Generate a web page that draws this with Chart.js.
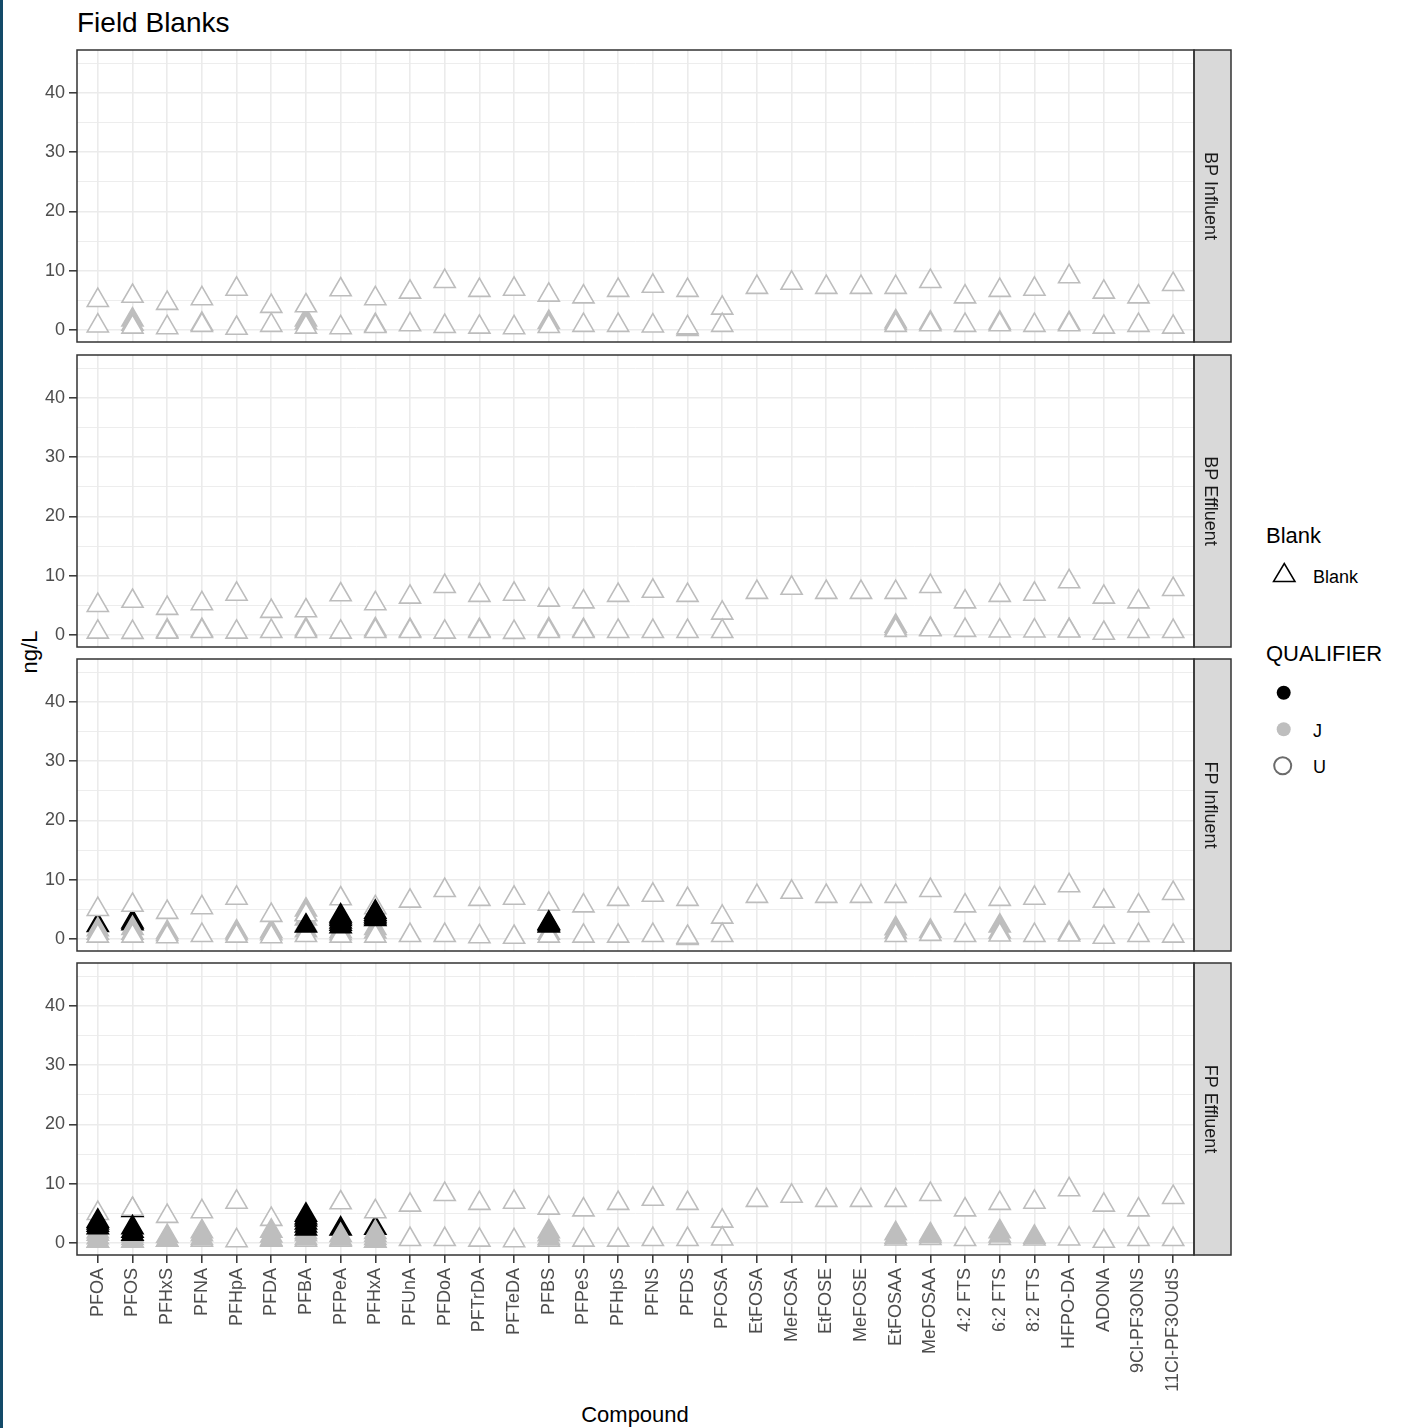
<!DOCTYPE html>
<html>
<head>
<meta charset="utf-8">
<title>Field Blanks</title>
<script src="https://cdn.jsdelivr.net/npm/chart.js@4.4.1/dist/chart.umd.min.js"></script>
<style>
  body { margin: 0; background: #fff; font-family: "Liberation Sans", Arial, sans-serif; }
  #page { position: relative; width: 1403px; height: 1428px; overflow: hidden; background: #fff; }
  .panel { position: absolute; left: 0; }
  .txt { position: absolute; white-space: nowrap; line-height: 1; }
</style>
</head>
<body>
<div id="page">
  <div style="position:absolute;left:0;top:0;width:3px;height:1428px;background:#134a68"></div>
  <div class="txt" style="left:77px;top:9px;font-size:28px;color:#000">Field Blanks</div>
  <div class="txt" style="left:30px;top:652px;font-size:22px;color:#000;transform:translate(-50%,-50%) rotate(-90deg)">ng/L</div>
  <div class="txt" style="left:635px;top:1404px;font-size:22px;color:#000;transform:translateX(-50%)">Compound</div>

  <!-- legend -->
  <div class="txt" style="left:1266px;top:525px;font-size:22px;color:#000">Blank</div>
  <div class="txt" style="left:1313px;top:568px;font-size:18px;color:#000">Blank</div>
  <div class="txt" style="left:1266px;top:643px;font-size:22px;color:#000">QUALIFIER</div>
  <div class="txt" style="left:1313px;top:722px;font-size:18px;color:#000">J</div>
  <div class="txt" style="left:1313px;top:758px;font-size:18px;color:#000">U</div>
  <svg style="position:absolute;left:1240px;top:540px" width="100" height="250">
    <polygon points="44.3,23.5 33.5,41.5 55,41.5" fill="none" stroke="#000" stroke-width="1.5"/>
    <circle cx="43.7" cy="152.7" r="7" fill="#000"/>
    <circle cx="43.7" cy="189.3" r="7" fill="#BEBEBE"/>
    <circle cx="42.7" cy="225.7" r="8.5" fill="none" stroke="#6b6b6b" stroke-width="2"/>
  </svg>
</div>

<script>
// ── Data ──────────────────────────────────────────────
const compounds = ['PFOA', 'PFOS', 'PFHxS', 'PFNA', 'PFHpA', 'PFDA', 'PFBA', 'PFPeA', 'PFHxA', 'PFUnA',
  'PFDoA', 'PFTrDA', 'PFTeDA', 'PFBS', 'PFPeS', 'PFHpS', 'PFNS', 'PFDS', 'PFOSA', 'EtFOSA',
  'MeFOSA', 'EtFOSE', 'MeFOSE', 'EtFOSAA', 'MeFOSAA', '4:2 FTS', '6:2 FTS', '8:2 FTS', 'HFPO-DA', 'ADONA',
  '9Cl-PF3ONS', '11Cl-PF3OUdS'];

const panelNames = ['BP Influent', 'BP Effluent', 'FP Influent', 'FP Effluent'];

const yTickValues = [0, 5, 10, 15, 20, 25, 30, 35, 40, 45];

// upper row of U (non-detect) results, same in every panel
const reportLimits = [5.0, 5.7, 4.5, 5.3, 6.9, 4.0, 4.1, 6.8, 5.3, 6.4,
  8.2, 6.7, 6.9, 5.9, 5.6, 6.7, 7.4, 6.7, 3.7, 7.2,
  7.9, 7.2, 7.2, 7.2, 8.2, 5.6, 6.7, 6.9, 9.0, 6.4,
  5.6, 7.7];

// lower row of U results per panel
const bpInfLow = [0.7, 0.5, 0.4, 0.8, 0.3, 0.8, 0.5, 0.4, 0.6, 0.9,
  0.6, 0.5, 0.4, 0.6, 0.8, 0.8, 0.7, 0.4, 0.8, null,
  null, null, null, 0.8, 0.9, 0.8, 0.9, 0.8, 0.9, 0.5,
  0.8, 0.5];
const bpEffLow = [0.5, 0.45, 0.5, 0.6, 0.5, 0.6, 0.6, 0.5, 0.6, 0.6,
  0.5, 0.6, 0.45, 0.6, 0.6, 0.6, 0.6, 0.6, 0.6, null,
  null, null, null, 0.8, 0.9, 0.8, 0.7, 0.7, 0.7, 0.3,
  0.6, 0.6];
const fpInfLow = [0.5, 0.5, 0.4, 0.6, 0.5, 0.4, 0.6, 0.5, 0.5, 0.6,
  0.6, 0.4, 0.3, 0.5, 0.5, 0.5, 0.6, 0.3, 0.6, null,
  null, null, null, 0.6, 0.8, 0.6, 0.7, 0.6, 0.7, 0.3,
  0.6, 0.5];
const fpEffLow = [0.3, 0.3, 0.5, 0.5, 0.4, 0.5, 0.5, 0.5, 0.3, 0.6,
  0.6, 0.5, 0.4, 0.5, 0.5, 0.5, 0.6, 0.6, 0.7, null,
  null, null, null, 0.7, 0.8, 0.6, 0.8, 0.7, 0.7, 0.3,
  0.6, 0.6];

// J-qualified results
const bpInfJ = [['PFOS', [1.0, 1.7]], ['PFNA', [1.0]], ['PFBA', [1.2, 1.7]], ['PFHxA', [0.8]],
  ['PFBS', [1.3]], ['PFDS', [0.1]], ['EtFOSAA', [1.1, 1.4]], ['MeFOSAA', [1.2]],
  ['6:2 FTS', [1.2]], ['HFPO-DA', [1.1]]];
const bpEffJ = [['PFHxS', [0.7]], ['PFNA', [0.8]], ['PFBA', [0.9]], ['PFHxA', [0.9]], ['PFUnA', [0.8]],
  ['PFTrDA', [0.8]], ['PFBS', [0.9]], ['PFPeS', [0.8]], ['EtFOSAA', [1.1, 1.5]], ['MeFOSAA', [1.0]],
  ['HFPO-DA', [0.8]]];
const fpInfJ = [['PFOA', [1.0, 1.6]], ['PFOS', [1.0, 1.8]], ['PFHxS', [0.8, 1.1]], ['PFHpA', [0.9, 1.2]],
  ['PFDA', [0.9, 1.3]], ['PFBA', [1.4, 2.4, 3.4, 4.2, 4.9]], ['PFPeA', [0.9, 1.3]], ['PFHxA', [1.2, 1.8]],
  ['PFBS', [1.0]], ['PFDS', [0.1]], ['EtFOSAA', [1.2, 1.75]], ['MeFOSAA', [1.35]],
  ['6:2 FTS', [1.2, 2.2]], ['HFPO-DA', [1.0]]];
const fpEffJ = [['PFOA', [0.3, 0.9, 1.5, 1.9]], ['PFOS', [0.3, 0.8, 1.2]], ['PFHxS', [0.5, 1.1]],
  ['PFNA', [0.8, 1.4, 1.9]], ['PFDA', [0.6, 1.2, 2.0]], ['PFBA', [0.8, 1.4, 1.8]], ['PFPeA', [0.7, 1.3]],
  ['PFHxA', [0.3, 0.8, 1.3, 1.8]], ['PFBS', [0.8, 1.4, 1.9]], ['EtFOSAA', [1.0, 1.6]],
  ['MeFOSAA', [1.1, 1.4]], ['6:2 FTS', [1.2, 1.9]], ['8:2 FTS', [1.0]]];

// unqualified (detected) results drawn in front of the others
const fpInfDet = [['PFBA', [2.2]], ['PFPeA', [2.1, 2.5, 2.9, 3.3, 3.6, 3.9]],
  ['PFHxA', [3.3, 3.6, 3.9, 4.2, 4.55]], ['PFBS', [2.2, 2.45, 2.7]]];
const fpEffDet = [['PFOA', [2.6, 3.0, 3.4, 3.7]], ['PFOS', [1.5, 2.0, 2.6]],
  ['PFBA', [2.4, 2.9, 3.4, 3.9, 4.3, 4.7]]];
// unqualified results that sit behind the J / U markers
const fpInfDetBack = [['PFOA', [2.3]], ['PFOS', [2.6, 2.9]]];
const fpEffDetBack = [['PFOS', [5.5]], ['PFPeA', [2.4]], ['PFHxA', [2.5]]];

// ── Layout ────────────────────────────────────────────
const panelTops = [50, 355, 659, 963];
const panelH = 292;
const yMin = -2.03, yMax = 47.26;

Chart.defaults.font.family = '"Liberation Sans", Arial, sans-serif';

const panelFrame = {
  id: 'panelFrame',
  afterDraw(chart, args, opts) {
    const { ctx, chartArea: a } = chart;
    ctx.save();
    ctx.fillStyle = '#D9D9D9';
    ctx.fillRect(a.right, a.top, 37, a.bottom - a.top);
    ctx.strokeStyle = '#333333';
    ctx.lineWidth = 1.5;
    ctx.strokeRect(a.right, a.top, 37, a.bottom - a.top);
    ctx.strokeRect(a.left, a.top, a.right - a.left, a.bottom - a.top);
    ctx.translate(a.right + 15.5, (a.top + a.bottom) / 2);
    ctx.rotate(Math.PI / 2);
    ctx.fillStyle = '#1A1A1A';
    ctx.font = '18px "Liberation Sans", Arial, sans-serif';
    ctx.textAlign = 'center';
    ctx.textBaseline = 'middle';
    ctx.fillText(opts.label, 0, 0);
    ctx.restore();
  }
};

function toPoints(entries) {
  const pts = [];
  entries.forEach(([name, vals]) => {
    vals.forEach(v => pts.push({ x: compounds.indexOf(name) + 1, y: v }));
  });
  return pts;
}

function uPoints(low) {
  const pts = reportLimits.map((v, i) => ({ x: i + 1, y: v }));
  low.forEach((v, i) => { if (v !== null) pts.push({ x: i + 1, y: v }); });
  return pts;
}

const tri = (border, fill) => ({
  pointStyle: 'triangle',
  pointRadius: 12.2,
  pointBorderWidth: 1.6,
  pointBorderColor: border,
  pointBackgroundColor: fill,
  showLine: false,
});

function makePanel(i, low, jPts, detPts, detBack, jOverU) {
  const isBottom = i === panelNames.length - 1;
  const canvas = document.createElement('canvas');
  const h = isBottom ? 4 + panelH + 150 : panelH + 8;
  canvas.width = 1240;
  canvas.height = h;
  canvas.className = 'panel';
  canvas.style.top = (panelTops[i] - 4) + 'px';
  document.getElementById('page').appendChild(canvas);

  const dsDet = { label: '', data: toPoints(detPts), ...tri('#000000', '#000000') };
  const dsJ = { label: 'J', data: toPoints(jPts), ...tri('#BEBEBE', '#BEBEBE') };
  const dsU = { label: 'U', data: uPoints(low), ...tri('#BDBDBD', '#FFFFFF') };
  const dsBack = { label: '', data: toPoints(detBack), ...tri('#000000', '#000000') };
  // first dataset is drawn on top
  const datasets = jOverU ? [dsDet, dsJ, dsU, dsBack] : [dsDet, dsU, dsJ, dsBack];

  new Chart(canvas, {
    type: 'scatter',
    data: { datasets },
    options: {
      responsive: false,
      animation: false,
      events: [],
      layout: {
        autoPadding: false,
        padding: { left: 0, top: 4, right: 46, bottom: isBottom ? 0 : 4 },
      },
      plugins: {
        legend: { display: false },
        tooltip: { enabled: false },
        panelFrame: { label: panelNames[i] },
      },
      scales: {
        x: {
          type: 'linear',
          min: 0.4,
          max: 32.6,
          afterBuildTicks: s => { s.ticks = compounds.map((c, k) => ({ value: k + 1 })); },
          afterFit: s => {
            s.height = isBottom ? 150 : 0;
            s.paddingLeft = 0;
            s.paddingRight = 0;
          },
          border: { display: false },
          grid: {
            color: '#EBEBEB',
            lineWidth: 1.6,
            drawTicks: isBottom,
            tickLength: 8,
            tickWidth: 1.5,
            tickColor: '#333333',
          },
          ticks: {
            display: isBottom,
            autoSkip: false,
            minRotation: 90,
            maxRotation: 90,
            padding: 5,
            color: '#4D4D4D',
            font: { size: 18 },
            callback: v => compounds[Math.round(v) - 1] || '',
          },
        },
        y: {
          min: yMin,
          max: yMax,
          afterBuildTicks: s => { s.ticks = yTickValues.map(v => ({ value: v })); },
          afterFit: s => {
            s.width = 77;
            s.paddingTop = 0;
            s.paddingBottom = 0;
          },
          border: { display: false },
          grid: {
            color: '#EBEBEB',
            lineWidth: ctx => (ctx.tick && ctx.tick.value % 10 === 0 ? 1.6 : 0.9),
            tickLength: 8,
            tickWidth: 1.5,
            tickColor: ctx => (ctx.tick && ctx.tick.value % 10 === 0 ? '#333333' : 'rgba(0,0,0,0)'),
          },
          ticks: {
            autoSkip: false,
            padding: 4,
            color: '#4D4D4D',
            font: { size: 18 },
            callback: v => (v % 10 === 0 ? String(v) : ''),
          },
        },
      },
    },
    plugins: [panelFrame],
  });
}

makePanel(0, bpInfLow, bpInfJ, [], [], false);
makePanel(1, bpEffLow, bpEffJ, [], [], false);
makePanel(2, fpInfLow, fpInfJ, fpInfDet, fpInfDetBack, false);
makePanel(3, fpEffLow, fpEffJ, fpEffDet, fpEffDetBack, true);
</script>
</body>
</html>
